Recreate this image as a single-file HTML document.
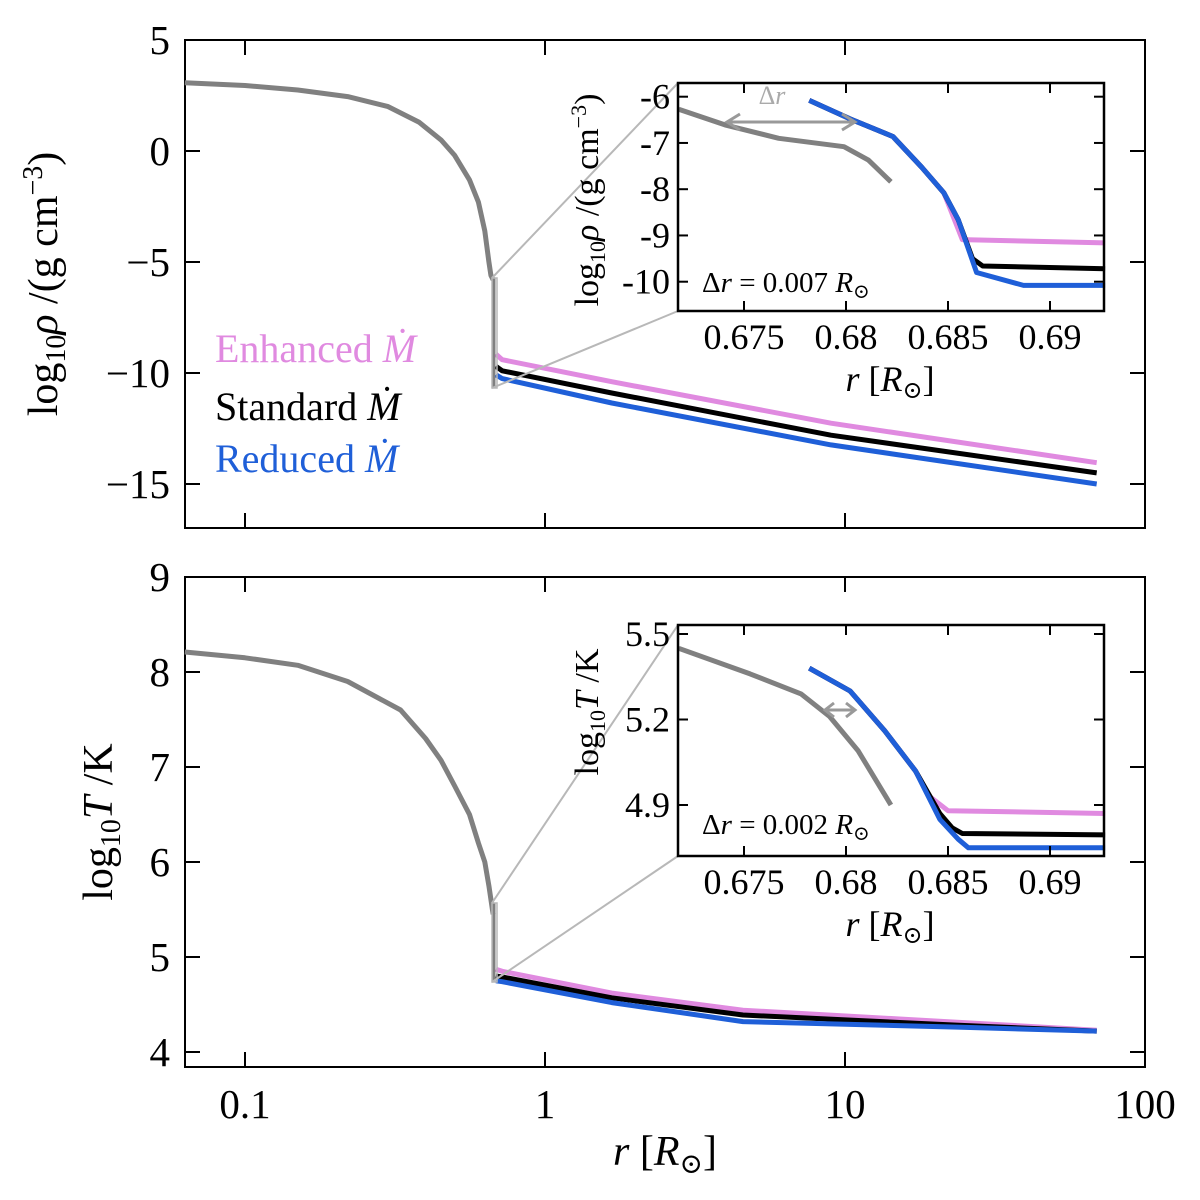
<!DOCTYPE html>
<html><head><meta charset="utf-8"><style>
body{margin:0;background:#fff}
svg{display:block;font-family:"Liberation Serif","DejaVu Serif",serif}
</style></head><body>
<svg id="s" width="1200" height="1200" viewBox="0 0 1200 1200" xmlns="http://www.w3.org/2000/svg"></svg>
<script>
// ---------- data ----------
const mainGrayR_top=[0.063,0.1,0.15,0.22,0.3,0.38,0.45,0.5,0.56,0.6,0.63,0.65,0.66,0.672];
const mainGrayY_top=[3.07,2.95,2.75,2.45,2.0,1.3,0.5,-0.2,-1.3,-2.3,-3.6,-5.0,-5.6,-5.8];
const mainR_col=[0.686,0.72,1.67,8.98,69];
const pinkRho=[-9.15,-9.4,-10.39,-12.26,-14.04];
const blackRho=[-9.7,-9.9,-10.9,-12.8,-14.5];
const blueRho=[-10.08,-10.25,-11.35,-13.24,-15.0];
const mainGrayR_bot=[0.063,0.1,0.15,0.22,0.33,0.4,0.45,0.5,0.56,0.6,0.63,0.65,0.668,0.672];
const mainGrayT=[8.21,8.15,8.07,7.9,7.6,7.3,7.07,6.8,6.5,6.2,6.0,5.75,5.5,5.45];
const mainR_colT=[0.686,0.72,1.67,4.57,24.5,69];
const pinkT=[4.87,4.85,4.62,4.44,4.31,4.23];
const blackT=[4.8,4.79,4.57,4.39,4.28,4.22];
const blueT=[4.75,4.74,4.52,4.32,4.26,4.22];
// inset data
const inGrayR=[0.6718,0.67407,0.6767,0.6799,0.6811,0.6822];
const inGrayRho=[-6.27,-6.61,-6.9,-7.08,-7.37,-7.84];
const inBlueR=[0.6782,0.6802,0.6823,0.6837,0.6848,0.6855,0.6864,0.6887,0.6927];
const inBlueRho=[-6.08,-6.48,-6.86,-7.52,-8.08,-8.66,-9.8,-10.08,-10.08];
const inBlackR=[0.6782,0.6802,0.6823,0.6837,0.6848,0.6855,0.6862,0.6867,0.6927];
const inBlackRho=[-6.08,-6.48,-6.86,-7.52,-8.08,-8.66,-9.5,-9.66,-9.72];
const inPinkR=[0.6782,0.6802,0.6823,0.6837,0.6848,0.6857,0.6927];
const inPinkRho=[-6.08,-6.48,-6.86,-7.52,-8.08,-9.09,-9.16];
const inGrayTR=[0.6718,0.6753,0.6778,0.6792,0.6806,0.6822];
const inGrayT=[5.45,5.36,5.29,5.21,5.09,4.90];
const inBlueTR=[0.6782,0.6802,0.6819,0.6834,0.6846,0.6855,0.6860,0.6927];
const inBlueT=[5.38,5.30,5.16,5.02,4.85,4.78,4.75,4.75];
const inBlackTR=[0.6782,0.6802,0.6819,0.6834,0.6846,0.6852,0.6857,0.6927];
const inBlackT=[5.38,5.30,5.16,5.02,4.87,4.82,4.80,4.795];
const inPinkTR=[0.6782,0.6802,0.6819,0.6834,0.6841,0.6850,0.6927];
const inPinkT=[5.38,5.30,5.16,5.02,4.93,4.88,4.87];
const mainXTicks=[0.1,1,10,100];
const mainXLabels=["0.1","1","10","100"];
const rhoTicks=[5,0,-5,-10,-15];
const rhoLabels=["5","0","\u22125","\u221210","\u221215"];
const tTicks=[9,8,7,6,5,4];
const tLabels=["9","8","7","6","5","4"];
const inXTicks=[0.675,0.68,0.685,0.69];
const inXLabels=["0.675","0.68","0.685","0.69"];
const inRhoTicks=[-6,-7,-8,-9,-10];
const inRhoLabels=["-6","-7","-8","-9","-10"];
const inTTicks=[5.5,5.2,4.9];
const inTLabels=["5.5","5.2","4.9"];

const C={pink:"#e08ae0",black:"#000",blue:"#1f5fd8",gray:"#808080",lg:"#b8b8b8"};
const S=document.getElementById('s');
const NS="http://www.w3.org/2000/svg";
function el(t,a,p){const e=document.createElementNS(NS,t);for(const k in a)e.setAttribute(k,a[k]);(p||S).appendChild(e);return e;}
// axis functions
const mx=r=>545+300*Math.log10(r);
const yRho=v=>151-v*111/5;
const yT=v=>577+(9-v)*95;
function inX(r){return 744+(r-0.675)/0.005*102;}
const iyRho=v=>96.7+(-6-v)*46.25;
const iyT=v=>634+(5.5-v)*85.5/0.3;
function line(xs,ys,fx,fy,col,w,name){
  const d=xs.map((x,i)=>(i?'L':'M')+fx(x).toFixed(1)+','+fy(ys[i]).toFixed(1)).join('');
  const p=el('path',{d:d,fill:'none',stroke:col,'stroke-width':w,'stroke-linejoin':'round'});
  
  
  return p;
}
function txt(x,y,s,size,anchor,col,name,rot){
  const t=el('text',{x:x,y:y,'font-size':size,'text-anchor':anchor||'middle',fill:col||'#000'});
  if(rot)t.setAttribute('transform','rotate(-90 '+x+' '+y+')');
  t.innerHTML=s;
  
  
  return t;
}
function frame(x0,y0,x1,y1,name,w){
  const r=el('rect',{x:x0,y:y0,width:x1-x0,height:y1-y0,fill:'none',stroke:'#000','stroke-width':w});
  
  
}
function tick(x1,y1,x2,y2,w){el('line',{x1:x1,y1:y1,x2:x2,y2:y2,stroke:'#000','stroke-width':w});}

// ----- top main panel -----
const X0=185,X1=1145;
frame(X0,40,X1,528,'density-panel-frame',2);
mainXTicks.forEach(v=>{const x=mx(v);if(x>X0&&x<X1){tick(x,528,x,513,2);tick(x,40,x,55,2);}});
rhoTicks.forEach(v=>{const y=yRho(v);tick(X0,y,X0+15,y,2);tick(X1,y,X1-15,y,2);});
rhoTicks.forEach((v,i)=>txt(170,yRho(v)+14,rhoLabels[i],41,'end','#000','rho-tick-label'));
line(mainR_col,pinkRho,mx,yRho,C.pink,5,'enhanced-rho-line');
line(mainR_col,blackRho,mx,yRho,C.black,5,'standard-rho-line');
line(mainR_col,blueRho,mx,yRho,C.blue,5,'reduced-rho-line');
line(mainGrayR_top,mainGrayY_top,mx,yRho,C.gray,5,'interior-rho-line');
el('path',{d:'M494,278L494,388',stroke:C.gray,'stroke-width':3});
el('rect',{x:492,y:278,width:5,height:110,fill:'none',stroke:C.lg,'stroke-width':1.5});
el('line',{x1:492,y1:278,x2:678,y2:83,stroke:C.lg,'stroke-width':2});
el('line',{x1:492,y1:388,x2:678,y2:311,stroke:C.lg,'stroke-width':2});
txt(57,284,'log<tspan font-size="28" dy="8">10</tspan><tspan dy="-8" font-style="italic">ρ</tspan> /(g cm<tspan font-size="28" dy="-15">−3</tspan><tspan dy="15">)</tspan>',42,'middle','#000','rho-axis-title',true);
txt(215,362,'Enhanced <tspan font-style="italic">Ṁ</tspan>',40,'start',C.pink,'legend-enhanced');
txt(215,420,'Standard <tspan font-style="italic">Ṁ</tspan>',40,'start',C.black,'legend-standard');
txt(215,472,'Reduced <tspan font-style="italic">Ṁ</tspan>',40,'start',C.blue,'legend-reduced');

// ----- bottom main panel -----
frame(X0,577,X1,1067,'temperature-panel-frame',2);
mainXTicks.forEach(v=>{const x=mx(v);if(x>X0&&x<X1){tick(x,1067,x,1052,2);tick(x,577,x,592,2);}});
tTicks.forEach(v=>{const y=yT(v);if(y>577&&y<1067){tick(X0,y,X0+15,y,2);tick(X1,y,X1-15,y,2);}});
tTicks.forEach((v,i)=>txt(170,yT(v)+14,tLabels[i],41,'end','#000','t-tick-label'));
mainXTicks.forEach((v,i)=>txt(mx(v),1118,mainXLabels[i],41,'middle','#000','r-tick-label'));
line(mainR_colT,pinkT,mx,yT,C.pink,5,'enhanced-t-line');
line(mainR_colT,blackT,mx,yT,C.black,5,'standard-t-line');
line(mainR_colT,blueT,mx,yT,C.blue,5,'reduced-t-line');
line(mainGrayR_bot,mainGrayT,mx,yT,C.gray,5,'interior-t-line');
el('path',{d:'M494,903L494,982',stroke:C.gray,'stroke-width':3});
el('rect',{x:492,y:903,width:5,height:79,fill:'none',stroke:C.lg,'stroke-width':1.5});
el('line',{x1:492,y1:903,x2:678,y2:625,stroke:C.lg,'stroke-width':2});
el('line',{x1:492,y1:982,x2:678,y2:856,stroke:C.lg,'stroke-width':2});
txt(112,822,'log<tspan font-size="28" dy="8">10</tspan><tspan dy="-8" font-style="italic">T</tspan> /K',42,'middle','#000','t-axis-title',true);
txt(665,1165,'<tspan font-style="italic">r</tspan> [<tspan font-style="italic">R</tspan><tspan font-size="28" dy="8">⊙</tspan><tspan dy="-8">]</tspan>',42,'middle','#000','r-axis-title');

// ----- insets -----
function inset(y0,y1,fy,ticks,labels,series,label,lblY,dr,drY,name,arrow){
  const g=el('g',{});
  
  
  el('rect',{x:678,y:y0,width:426,height:y1-y0,fill:'#fff',stroke:'none'},g);
  series.forEach(s=>line(s[0],s[1],inX,fy,s[2],5,s[3]));
  if(arrow)arrow();
  el('rect',{x:678,y:y0,width:426,height:y1-y0,fill:'none',stroke:'#000','stroke-width':2.5});
  inXTicks.forEach((v,i)=>{const x=inX(v);tick(x,y1,x,y1-10,2);tick(x,y0,x,y0+10,2);
    txt(x,y1+38,inXLabels[i],36,'middle','#000','inset-r-tick-label');});
  ticks.forEach((v,i)=>{const y=fy(v);tick(678,y,688,y,2);tick(1104,y,1094,y,2);
    txt(670,y+12,labels[i],36,'end','#000','inset-y-tick-label');});
  txt(890,y1+80,'<tspan font-style="italic">r</tspan> [<tspan font-style="italic">R</tspan><tspan font-size="24" dy="7">⊙</tspan><tspan dy="-7">]</tspan>',36,'middle','#000','inset-r-axis-title');
  txt(598,lblY,label,34,'middle','#000','inset-y-axis-title',true);
  txt(702,drY,'Δ<tspan font-style="italic">r</tspan> = '+dr+' <tspan font-style="italic">R</tspan><tspan font-size="20" dy="6">⊙</tspan>',29,'start','#000','delta-r-label');
}
inset(83,311,iyRho,inRhoTicks,inRhoLabels,
 [[inGrayR,inGrayRho,C.gray,'inset-interior-rho'],[inPinkR,inPinkRho,C.pink,'inset-enhanced-rho'],[inBlackR,inBlackRho,C.black,'inset-standard-rho'],[inBlueR,inBlueRho,C.blue,'inset-reduced-rho']],
 'log<tspan font-size="22" dy="7">10</tspan><tspan dy="-7" font-style="italic">ρ</tspan> /(g cm<tspan font-size="22" dy="-12">−3</tspan><tspan dy="12">)</tspan>',200,'0.007',292,'density-inset',
 ()=>{el('path',{d:'M727,122L855,122M740,114L727,122L740,130M842,114L855,122L842,130',fill:'none',stroke:'#999','stroke-width':3});
   txt(772,104,'Δ<tspan font-style="italic">r</tspan>',26,'middle','#aaa','delta-r-arrow-label');});
inset(625,856,iyT,inTTicks,inTLabels,
 [[inGrayTR,inGrayT,C.gray,'inset-interior-t'],[inPinkTR,inPinkT,C.pink,'inset-enhanced-t'],[inBlackTR,inBlackT,C.black,'inset-standard-t'],[inBlueTR,inBlueT,C.blue,'inset-reduced-t']],
 'log<tspan font-size="22" dy="7">10</tspan><tspan dy="-7" font-style="italic">T</tspan> /K',712,'0.002',834,'temperature-inset',
 ()=>{el('path',{d:'M825,710L855,710M834,703L825,710L834,717M846,703L855,710L846,717',fill:'none',stroke:'#999','stroke-width':3});});
</script>
</body></html>
